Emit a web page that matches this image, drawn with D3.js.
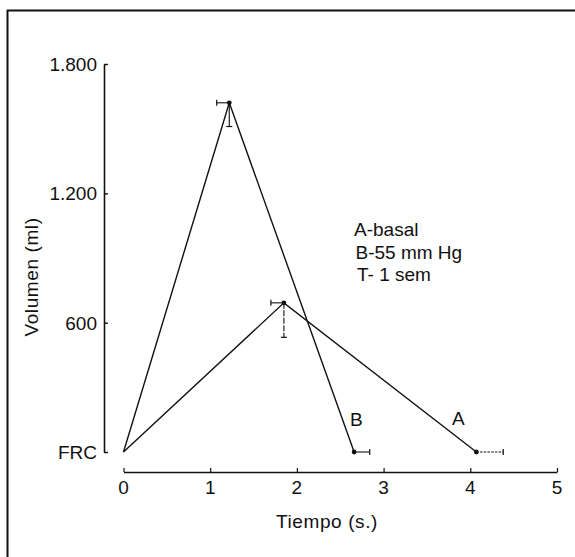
<!DOCTYPE html>
<html>
<head>
<meta charset="utf-8">
<script src="https://cdn.jsdelivr.net/npm/d3@7"></script>
<style>
  html, body { margin: 0; padding: 0; background: #fff; }
  svg { display: block; }
  text { font-family: "Liberation Sans", Arial, Helvetica, sans-serif; fill: #111; }
</style>
</head>
<body>
<svg id="chart" width="575" height="557"></svg>
<script>
// ---- data ----
const xTicks = [0, 1, 2, 3, 4, 5];
const yTicks = [0, 600, 1200, 1800];
const yTickLabels = ["FRC", "600", "1.200", "1.800"];

const timeA = [0, 1.85, 4.07];
const volA  = [0, 692, 0];
const errTimeA = [0, -0.15, 0.31];   // signed horizontal error
const errVolA  = [0, -160, 0];       // signed vertical error

const timeB = [0, 1.22, 2.66];
const volB  = [0, 1620, 0];
const errTimeB = [0, -0.145, 0.18];
const errVolB  = [0, -110, 0];

const legendLines = ["A-basal", "B-55 mm Hg", "T- 1 sem"];
const xTitle = "Tiempo (s.)";
const yTitle = "Volumen (ml)";

// ---- layout ----
const svg = d3.select("#chart");
const x = d3.scaleLinear().domain([0, 5]).range([123.5, 557]);
const y = d3.scaleLinear().domain([0, 1800]).range([452, 64]);
const fs = 19;

// frame (top and left edges)
svg.append("line").attr("x1", 7).attr("x2", 575).attr("y1", 10.5).attr("y2", 10.5)
  .attr("stroke", "#111").attr("stroke-width", 2);
svg.append("line").attr("x1", 7.5).attr("x2", 7.5).attr("y1", 10).attr("y2", 557)
  .attr("stroke", "#111").attr("stroke-width", 2);

// y axis (ticks pointing inward/right)
const yAxis = d3.axisRight(y).tickValues(yTicks).tickSize(4).tickSizeOuter(0).tickFormat("");
const gy = svg.append("g").attr("transform", "translate(104,0)").call(yAxis);
gy.select(".domain").attr("stroke", "#111").attr("stroke-width", 1.6);
gy.selectAll(".tick line").attr("stroke", "#111").attr("stroke-width", 1.4);
svg.append("g").selectAll("text").data(yTicks).join("text")
  .attr("x", 97).attr("y", d => y(d)).attr("dy", "0.36em")
  .attr("text-anchor", "end").attr("font-size", fs)
  .text((d, i) => yTickLabels[i]);

// x axis (ticks pointing up)
const xAxis = d3.axisTop(x).tickValues(xTicks).tickSize(4).tickSizeOuter(0).tickFormat("");
const gx = svg.append("g").attr("transform", "translate(0,472)").call(xAxis);
gx.select(".domain").attr("stroke", "#111").attr("stroke-width", 1.6);
gx.selectAll(".tick line").attr("stroke", "#111").attr("stroke-width", 1.2);
svg.append("g").selectAll("text").data(xTicks).join("text")
  .attr("x", d => x(d)).attr("y", 494)
  .attr("text-anchor", "middle").attr("font-size", fs)
  .text(d => d);

// axis titles
svg.append("text").attr("x", 327).attr("y", 528).attr("text-anchor", "middle")
  .attr("font-size", fs).attr("letter-spacing", 0.6).text(xTitle);
svg.append("text").attr("transform", "translate(38,277) rotate(-90)")
  .attr("text-anchor", "middle").attr("font-size", fs).attr("letter-spacing", 0.6).text(yTitle);

// series
const series = [
  { name: "A", t: timeA, v: volA, et: errTimeA, ev: errVolA, labelX: 452, labelY: 425 },
  { name: "B", t: timeB, v: volB, et: errTimeB, ev: errVolB, labelX: 350, labelY: 426 }
];
const line = d3.line().x(d => x(d[0])).y(d => y(d[1]));

series.forEach(s => {
  const pts = s.t.map((t, i) => [t, s.v[i], s.et[i], s.ev[i]]);
  const g = svg.append("g");
  g.append("path").attr("d", line(pts)).attr("fill", "none")
    .attr("stroke", "#111").attr("stroke-width", 1.4).attr("stroke-linejoin", "miter");
  // error bars
  pts.forEach((p, i) => {
    if (p[2] !== 0) {
      const x0 = x(p[0]), x1 = x(p[0] + p[2]), yy = y(p[1]);
      g.append("line").attr("x1", x0).attr("x2", x1).attr("y1", yy).attr("y2", yy)
        .attr("stroke", "#111").attr("stroke-width", 1.1)
        .attr("stroke-dasharray", (s.name === "A" && i === 2) ? "2.5,1.2" : null);
      g.append("line").attr("x1", x1).attr("x2", x1).attr("y1", yy - 3).attr("y2", yy + 3)
        .attr("stroke", "#111").attr("stroke-width", 1.2);
    }
    if (p[3] !== 0) {
      const xx = x(p[0]), y0 = y(p[1]), y1 = y(p[1] + p[3]);
      g.append("line").attr("x1", xx).attr("x2", xx).attr("y1", y0).attr("y2", y1)
        .attr("stroke", "#111").attr("stroke-width", 1.1)
        .attr("stroke-dasharray", s.name === "A" ? "6,1.5" : null);
      g.append("line").attr("x1", xx - 3).attr("x2", xx + 3).attr("y1", y1).attr("y2", y1)
        .attr("stroke", "#111").attr("stroke-width", 1.2);
    }
  });
  // dots (not at origin)
  g.selectAll("circle").data(pts.slice(1)).join("circle")
    .attr("cx", d => x(d[0])).attr("cy", d => y(d[1])).attr("r", 2.4).attr("fill", "#111");
  g.append("text").attr("x", s.labelX).attr("y", s.labelY).attr("font-size", fs).text(s.name);
});

// legend
const legX = [354, 355.5, 357];
const legY = [236, 259, 281];
svg.append("g").selectAll("text").data(legendLines).join("text")
  .attr("x", (d, i) => legX[i]).attr("y", (d, i) => legY[i])
  .attr("font-size", fs).text(d => d);
</script>
</body>
</html>
